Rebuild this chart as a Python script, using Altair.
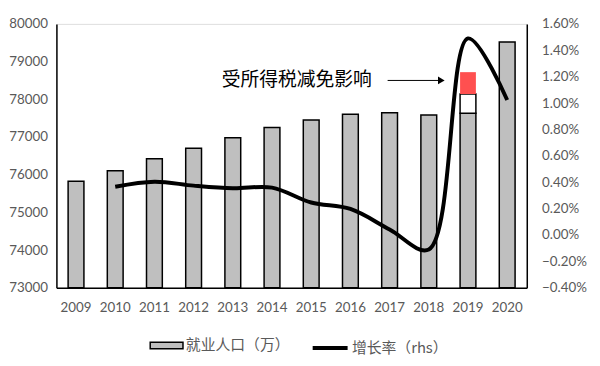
import altair as alt
import pandas as pd

years = ["2009", "2010", "2011", "2012", "2013", "2014", "2015", "2016", "2017", "2018", "2019", "2020"]
employment = [75828, 76105, 76420, 76704, 76977, 77253, 77451, 77603, 77640, 77586, 77630, 79520]
growth_years = ["2010", "2011", "2012", "2013", "2014", "2015", "2016", "2017", "2018", "2019", "2020"]
growth_rate = [0.00366, 0.00404, 0.00374, 0.00354, 0.00359, 0.00246, 0.00197, 0.00042, -0.0011, 0.01490, 0.01023]
extra_year = ["2019"]
white_low, white_high = [77630], [78140]
red_low, red_high = [78140], [78720]
annotation = "受所得税减免影响"
bar_label = "就业人口（万）"
line_label = "增长率（rhs）"
axis_base = 73000

bars_df = pd.DataFrame({"year": years, "value": employment, "base": axis_base, "s": bar_label})
line_df = pd.DataFrame({"year": growth_years, "rate": growth_rate, "s": line_label})
white_df = pd.DataFrame({"year": extra_year, "lo": white_low, "hi": white_high})
red_df = pd.DataFrame({"year": extra_year, "lo": red_low, "hi": red_high})
ann_df = pd.DataFrame({"year": ["2017"], "value": [78500], "text": [annotation]})
arrow_df = pd.DataFrame({"a": ["2017"], "b": ["2019"], "value": [78500]})

lab = "#595959"
xaxis = alt.Axis(labelAngle=0, ticks=False, domainColor="black", domainWidth=1.5,
                 labelOverlap=False, labelPadding=13, labelFont="Lato", labelFontSize=13.5,
                 labelColor=lab)
xscale = alt.Scale(domain=years, paddingInner=0, paddingOuter=0)
yscale = alt.Scale(domain=[73000, 80000], nice=False, zero=False)
yaxis = alt.Axis(values=list(range(73000, 80001, 1000)), grid=False, ticks=False, domainColor="black",
                 domainWidth=1.5, labelOverlap=False, labelPadding=9, labelFont="Lato", labelFontSize=13.5,
                 labelColor=lab, format="d")


def xq(field):
    return alt.X(field, sort=years, scale=xscale, axis=xaxis, title=None)


def yq(field):
    return alt.Y(field, scale=yscale, axis=yaxis, title=None)


bars = alt.Chart(bars_df).mark_bar(size=16, stroke="black", strokeWidth=1.5).encode(
    x=xq("year:N"),
    y=yq("value:Q"),
    y2="base:Q",
    fill=alt.Fill("s:N", scale=alt.Scale(range=["#BFBFBF"]),
                  legend=alt.Legend(orient="none", legendX=94, legendY=308, title=None,
                                    symbolType="M-1,-0.2H1V0.2H-1Z", symbolSize=1100,
                                    symbolStrokeColor="black", symbolStrokeWidth=1.5,
                                    labelFont="Noto Sans CJK SC", labelFontSize=15, labelColor=lab,
                                    labelOffset=2)),
)
white = alt.Chart(white_df).mark_bar(size=16, stroke="black", strokeWidth=1.5, fill="white").encode(
    x=xq("year:N"), y=yq("lo:Q"), y2="hi:Q")
red = alt.Chart(red_df).mark_bar(size=16, fill="#FF5050", strokeWidth=0).encode(
    x=xq("year:N"), y=yq("lo:Q"), y2="hi:Q")
ann = alt.Chart(ann_df).mark_text(align="right", dx=-18, font="Noto Sans CJK SC", fontSize=19,
                                  color="black").encode(
    x=xq("year:N"), y=yq("value:Q"), text="text:N")
arrow = alt.Chart(arrow_df).mark_rule(color="black", strokeWidth=1, xOffset=-2, x2Offset=-30).encode(
    x=xq("a:N"), x2="b:N", y=yq("value:Q"))
head = alt.Chart(arrow_df).mark_point(shape="triangle-right", filled=True, color="black", size=60,
                                      opacity=1, xOffset=-27).encode(
    x=xq("b:N"), y=yq("value:Q"))

left = alt.layer(bars, white, red, ann, arrow, head)

line = alt.Chart(line_df).mark_line(interpolate="catmull-rom", strokeWidth=4).encode(
    x=xq("year:N"),
    y=alt.Y("rate:Q", title=None, scale=alt.Scale(domain=[-0.004, 0.016], nice=False, zero=False),
            axis=alt.Axis(orient="right", values=[round(-0.004 + 0.002 * i, 4) for i in range(11)],
                          format=".2%", grid=False, ticks=False, domainColor="black", domainWidth=1.5,
                          labelOverlap=False, labelPadding=15,
                          labelFont="Lato", labelFontSize=13.5, labelColor=lab)),
    stroke=alt.Stroke("s:N", scale=alt.Scale(range=["black"]),
                      legend=alt.Legend(orient="none", legendX=257, legendY=308, title=None,
                                        symbolType="M-1,0H1", symbolSize=1250, symbolStrokeWidth=4,
                                        labelFont="Noto Sans CJK SC", labelFontSize=15, labelColor=lab,
                                        labelOffset=2)),
)

chart = alt.layer(left, line).resolve_scale(y="independent", fill="independent", stroke="independent").properties(
    width=476, height=267, padding={"left": 0, "top": 7, "right": 5, "bottom": 0}
).configure_view(stroke="black", strokeWidth=1.5).configure(background="white")

chart.save("out.html", embed_options={"renderer": "svg", "actions": False})
